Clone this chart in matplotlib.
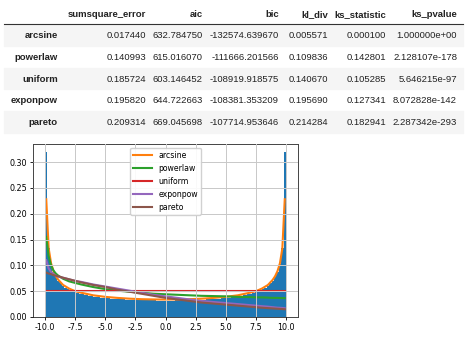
import numpy as np
import matplotlib
matplotlib.use("Agg")
import matplotlib.pyplot as plt
from matplotlib.patches import Rectangle

# summary table (fitter output)
columns = ["sumsquare_error", "aic", "bic", "kl_div", "ks_statistic", "ks_pvalue"]
dists = ["arcsine", "powerlaw", "uniform", "exponpow", "pareto"]
table_rows = [
    ["0.017440", "632.784750", "-132574.639670", "0.005571", "0.000100", "1.000000e+00"],
    ["0.140993", "615.016070", "-111666.201566", "0.109836", "0.142801", "2.128107e-178"],
    ["0.185724", "603.146452", "-108919.918575", "0.140670", "0.105285", "5.646215e-97"],
    ["0.195820", "644.722663", "-108381.353209", "0.195690", "0.127341", "8.072828e-142"],
    ["0.209314", "669.045698", "-107714.953646", "0.214284", "0.182941", "2.287342e-293"],
]

# histogram, 100 bins on [-10, 10], density
bin_edges = np.linspace(-10, 10, 101)
hist_heights = [
    0.319, 0.133, 0.102, 0.087, 0.077, 0.070, 0.065, 0.060, 0.057, 0.054,
    0.052, 0.050, 0.048, 0.047, 0.045, 0.044, 0.043, 0.042, 0.041, 0.040,
    0.039, 0.039, 0.038, 0.0375, 0.037, 0.0365, 0.036, 0.0356, 0.0353, 0.0349,
    0.0346, 0.0343, 0.034, 0.0337, 0.0335, 0.0333, 0.0331, 0.0329, 0.0327, 0.0326,
    0.0324, 0.0323, 0.0322, 0.0321, 0.032, 0.032, 0.0319, 0.0319, 0.0318, 0.0318,
    0.0318, 0.0318, 0.0319, 0.0319, 0.032, 0.032, 0.0321, 0.0322, 0.0323, 0.0324,
    0.0326, 0.0327, 0.0329, 0.0331, 0.0333, 0.0335, 0.0337, 0.034, 0.0343, 0.0346,
    0.0349, 0.0353, 0.0356, 0.036, 0.0365, 0.037, 0.0375, 0.038, 0.039, 0.039,
    0.040, 0.041, 0.042, 0.043, 0.044, 0.045, 0.047, 0.048, 0.050, 0.052,
    0.054, 0.057, 0.060, 0.065, 0.070, 0.077, 0.087, 0.102, 0.133, 0.319,
]

# fitted pdfs
xs = [-9.9, -9.7, -9.5, -9.3, -9.1, -8.9, -8.5, -8, -7.5, -7, -6, -5, -4, -3, -2, -1, 0,
      1, 2, 3, 4, 5, 6, 7, 7.5, 8, 8.5, 8.9, 9.1, 9.3, 9.5, 9.7, 9.9]
arcsine = [0.228, 0.133, 0.104, 0.089, 0.079, 0.072, 0.062, 0.055, 0.050, 0.047, 0.042,
           0.039, 0.037, 0.0355, 0.0345, 0.034, 0.0338, 0.034, 0.0345, 0.0355, 0.037,
           0.039, 0.042, 0.047, 0.050, 0.055, 0.062, 0.072, 0.079, 0.089, 0.104, 0.133, 0.228]
powerlaw = [0.155, 0.118, 0.100, 0.090, 0.084, 0.080, 0.074, 0.069, 0.066, 0.063, 0.058,
            0.054, 0.051, 0.049, 0.047, 0.045, 0.044, 0.043, 0.042, 0.041, 0.0405,
            0.040, 0.039, 0.0385, 0.038, 0.038, 0.0375, 0.037, 0.037, 0.037, 0.0368, 0.0366, 0.0365]
uniform = [0.05] * len(xs)
exponpow = [0.110, 0.094, 0.087, 0.083, 0.080, 0.078, 0.076, 0.073, 0.070, 0.068, 0.063,
            0.059, 0.055, 0.051, 0.047, 0.043, 0.040, 0.037, 0.034, 0.031, 0.029,
            0.027, 0.025, 0.023, 0.022, 0.021, 0.020, 0.019, 0.0185, 0.018, 0.0178, 0.0175, 0.017]
pareto = [0.086, 0.084, 0.083, 0.081, 0.080, 0.079, 0.076, 0.073, 0.070, 0.067, 0.062,
          0.058, 0.053, 0.049, 0.045, 0.041, 0.037, 0.034, 0.031, 0.028, 0.026,
          0.024, 0.022, 0.020, 0.019, 0.018, 0.0172, 0.0166, 0.0163, 0.016, 0.0157, 0.0154, 0.015]

fig = plt.figure(figsize=(4.74, 3.4), dpi=100)

# ---- table drawn in pixel coords ----
tab = fig.add_axes([0, 0, 1, 1])
tab.set_xlim(0, 474)
tab.set_ylim(340, 0)
tab.axis("off")

col_right = [146, 203, 279, 328, 386, 457]
label_right = 58
row_h = 21.6
top = 24.5
tfont = dict(family="Liberation Sans", fontsize=6.8, color="#222222")

for j, c in enumerate(columns):
    tab.text(col_right[j], 17, c, ha="right", va="baseline", fontweight="bold", **tfont)
tab.plot([4, 463], [24, 24], color="#333333", lw=0.8)

for i, name in enumerate(dists):
    y0 = top + i * row_h
    if i % 2 == 0:
        tab.add_patch(Rectangle((4, y0), 459, row_h, color="#f5f5f5", zorder=0))
    yb = y0 + 13.8
    tab.text(label_right, yb, name, ha="right", va="baseline", fontweight="bold", **tfont)
    for j, v in enumerate(table_rows[i]):
        tab.text(col_right[j], yb, v, ha="right", va="baseline", **tfont)

# ---- histogram + fitted curves ----
ax = fig.add_axes([33 / 474, 23 / 340, 265 / 474, 173 / 340])
centers = (bin_edges[:-1] + bin_edges[1:]) / 2
ax.hist(centers, bins=bin_edges, weights=hist_heights, histtype="stepfilled",
        color="#1f77b4")

curves = [("arcsine", arcsine, "#ff7f0e"), ("powerlaw", powerlaw, "#2ca02c"),
          ("uniform", uniform, "#d62728"), ("exponpow", exponpow, "#9467bd"),
          ("pareto", pareto, "#8c564b")]
for name, ys, col in curves:
    ax.plot(xs, ys, lw=1.5, color=col, label=name)

ax.grid(True, color="#c8c8c8", lw=0.7)
ax.set_axisbelow(False)
ax.set_xticks([-10, -7.5, -5, -2.5, 0, 2.5, 5, 7.5, 10])
ax.set_yticks([0, 0.05, 0.10, 0.15, 0.20, 0.25, 0.30])
ax.yaxis.set_major_formatter(matplotlib.ticker.FormatStrFormatter("%.2f"))
ax.xaxis.set_major_formatter(matplotlib.ticker.FormatStrFormatter("%.1f"))
ax.tick_params(labelsize=5.8, length=2.5, width=0.6, pad=2)
for s in ax.spines.values():
    s.set_linewidth(0.7)
    s.set_color("#444444")
ax.legend(loc="upper center", fontsize=5.6, handlelength=2.4, framealpha=0.9)

fig.savefig("out.png", dpi=100)
